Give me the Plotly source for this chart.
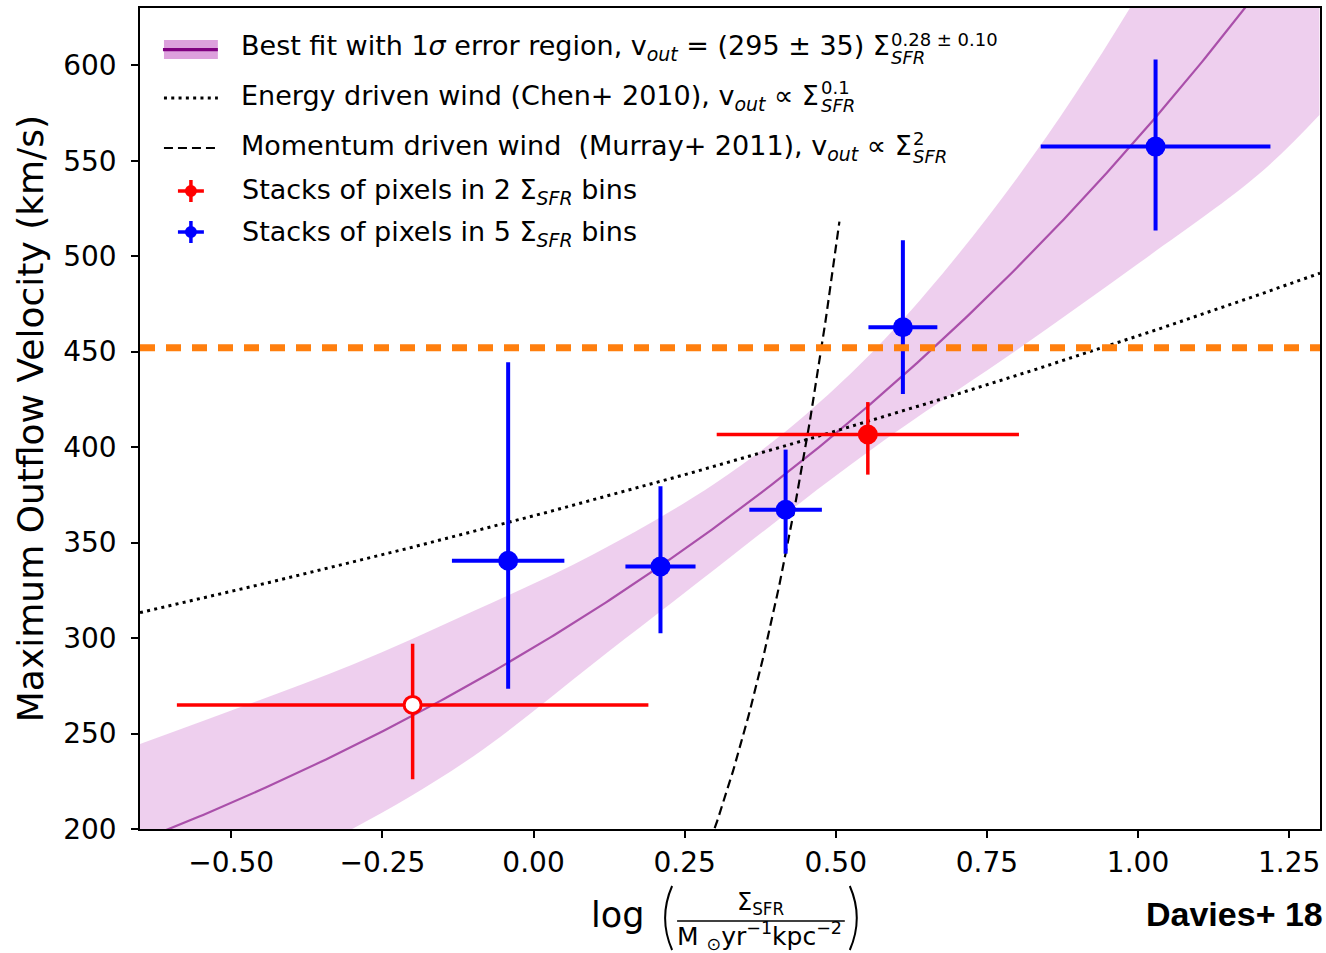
import numpy as np
import plotly.graph_objects as go

# ---------------------------------------------------------------- data
X_RANGE = [-0.651, 1.301]          # log Sigma_SFR
V_RANGE = [200, 630]               # km/s

X_TICKS = [-0.50, -0.25, 0.00, 0.25, 0.50, 0.75, 1.00, 1.25]
X_TICK_TEXT = ["\u22120.50", "\u22120.25", "0.00", "0.25", "0.50", "0.75", "1.00", "1.25"]
V_TICKS = [200, 250, 300, 350, 400, 450, 500, 550, 600]

# stacks of pixels in 2 Sigma_SFR bins
RED_LOG_SFR = [-0.20, 0.553]
RED_LOG_SFR_ERR = [0.39, 0.25]
RED_VMAX = [265.0, 406.6]
RED_VMAX_ERR_UP = [32, 17]
RED_VMAX_ERR_DN = [39, 21]
RED_FILL = ["white", "red"]

# stacks of pixels in 5 Sigma_SFR bins
BLUE_LOG_SFR = [-0.042, 0.210, 0.417, 0.611, 1.029]
BLUE_LOG_SFR_ERR = [0.093, 0.058, 0.060, 0.057, 0.190]
BLUE_VMAX = [340.5, 337.5, 367.2, 462.8, 557.4]
BLUE_VMAX_ERR_UP = [104, 42, 31.5, 45.5, 45.6]
BLUE_VMAX_ERR_DN = [67, 35, 23, 35, 44]

# best fit v_out = A * Sigma^b and its 1 sigma region
FIT_NORM = 295.0
FIT_INDEX = 0.28
BAND_LOG_SFR = [-0.655, -0.5, -0.3, -0.1, 0.1, 0.3, 0.45, 0.6, 0.8, 1.0, 1.2, 1.30]
BAND_UPPER = [244, 262, 286, 314, 344, 381, 417, 463, 541, 637, 753, 819]
BAND_LOWER = [150, 170, 200, 238, 287, 336, 373, 408, 451, 496, 543, 574]

# wind models
ENERGY_NORM, ENERGY_INDEX = 364.0, 0.1
MOMENTUM_NORM, MOMENTUM_INDEX = 50.4, 2.0
MOMENTUM_LOG_SFR = [0.25, 0.506]

V_LIMIT = 452

# ---------------------------------------------------------------- geometry helpers
W, H = 1326, 953
ML, MR, MT, MB = 140, 4, 8, 124
PW, PH = W - ML - MR, H - MT - MB


def fx(px):
    return (px - ML) / PW


def fy(py):
    return (H - MB - py) / PH


FONT = "DejaVu Sans"

fig = go.Figure()

# 1 sigma band
fig.add_trace(go.Scatter(x=BAND_LOG_SFR, y=BAND_LOWER, mode="lines",
                         line=dict(width=0, shape="spline", color="rgba(0,0,0,0)"),
                         hoverinfo="skip"))
fig.add_trace(go.Scatter(x=BAND_LOG_SFR, y=BAND_UPPER, mode="lines", fill="tonexty",
                         fillcolor="rgba(221,160,221,0.5)",
                         line=dict(width=0, shape="spline", color="rgba(0,0,0,0)"),
                         hoverinfo="skip"))

# best-fit line
xs = np.linspace(X_RANGE[0], X_RANGE[1], 300)
fig.add_trace(go.Scatter(x=xs, y=FIT_NORM * 10 ** (FIT_INDEX * xs), mode="lines",
                         line=dict(color="rgba(128,0,128,0.62)", width=2.2)))

# energy driven wind
fig.add_trace(go.Scatter(x=xs, y=ENERGY_NORM * 10 ** (ENERGY_INDEX * xs), mode="lines",
                         line=dict(color="black", width=3, dash="3px,4.3px")))

# momentum driven wind
xm = np.linspace(MOMENTUM_LOG_SFR[0], MOMENTUM_LOG_SFR[1], 120)
fig.add_trace(go.Scatter(x=xm, y=MOMENTUM_NORM * 10 ** (MOMENTUM_INDEX * xm), mode="lines",
                         line=dict(color="black", width=2.2, dash="9px,5px")))

# binned measurements
fig.add_trace(go.Scatter(
    x=RED_LOG_SFR, y=RED_VMAX, mode="markers",
    marker=dict(size=17, color=RED_FILL, line=dict(color="red", width=3)),
    error_x=dict(type="data", array=RED_LOG_SFR_ERR, color="red", thickness=3.5, width=0),
    error_y=dict(type="data", symmetric=False, array=RED_VMAX_ERR_UP,
                 arrayminus=RED_VMAX_ERR_DN, color="red", thickness=3.5, width=0)))
fig.add_trace(go.Scatter(
    x=BLUE_LOG_SFR, y=BLUE_VMAX, mode="markers",
    marker=dict(size=20, color="blue"),
    error_x=dict(type="data", array=BLUE_LOG_SFR_ERR, color="blue", thickness=4, width=0),
    error_y=dict(type="data", symmetric=False, array=BLUE_VMAX_ERR_UP,
                 arrayminus=BLUE_VMAX_ERR_DN, color="blue", thickness=4, width=0)))

# horizontal reference velocity
fig.add_trace(go.Scatter(x=X_RANGE, y=[V_LIMIT, V_LIMIT], mode="lines",
                         line=dict(color="#ff7f0e", width=7, dash="15px,11px")))

# ---------------------------------------------------------------- legend (hand built)
shapes = []
ann = []


def pline(x0, y0, x1, y1, color, width, dash="solid"):
    shapes.append(dict(type="line", xref="paper", yref="paper",
                       x0=fx(x0), y0=fy(y0), x1=fx(x1), y1=fy(y1),
                       line=dict(color=color, width=width, dash=dash)))


def text(px, py, s, size=27, anchor="left", vanchor="middle", color="black", family=FONT, angle=0,
         pad=1):
    ann.append(dict(xref="paper", yref="paper", x=fx(px), y=fy(py), text=s, showarrow=False,
                    xanchor=anchor, yanchor=vanchor, textangle=angle, borderpad=pad,
                    font=dict(family=family, size=size, color=color)))


shapes.append(dict(type="rect", xref="paper", yref="paper", x0=fx(164), x1=fx(218),
                   y0=fy(59), y1=fy(40), fillcolor="#dda0dd", line=dict(width=0)))
pline(163, 49.7, 218, 49.7, "#800080", 3.3)
pline(164, 98, 218, 98, "black", 3, "3px,4.3px")
pline(164, 148, 218, 148, "black", 2.2, "9px,5px")
for yc, col in ((191, "red"), (232, "blue")):
    pline(178, yc, 204, yc, col, 3.5)
    pline(191, yc - 11, 191, yc + 11, col, 3.5)
    shapes.append(dict(type="circle", xref="paper", yref="paper",
                       x0=fx(185), x1=fx(197), y0=fy(yc + 6), y1=fy(yc - 6),
                       fillcolor=col, line=dict(width=0)))

text(240, 48, "Best fit with 1<i>\u03c3</i> error region, v<sub><i>out</i></sub> = (295 \u00b1 35) \u03a3",
     pad=0)
text(891, 39, "0.28 \u00b1 0.10", size=18, pad=0)
text(891, 58, "<i>SFR</i>", size=18, pad=0)
text(240, 97, "Energy driven wind (Chen+ 2010), v<sub><i>out</i></sub> \u221d \u03a3", pad=0)
text(821, 88, "0.1", size=18, pad=0)
text(821, 106, "<i>SFR</i>", size=18, pad=0)
text(240, 147, "Momentum driven wind  (Murray+ 2011), v<sub><i>out</i></sub> \u221d \u03a3", pad=0)
text(913, 138, "2", size=18, pad=0)
text(913, 156, "<i>SFR</i>", size=18, pad=0)
text(240, 191, "Stacks of pixels in 2 \u03a3<sub><i>SFR</i></sub> bins")
text(240, 233, "Stacks of pixels in 5 \u03a3<sub><i>SFR</i></sub> bins")

# ---------------------------------------------------------------- axis titles
text(30, 419, "Maximum Outflow Velocity (km/s)", size=36, anchor="center", angle=-90)
text(618, 915, "log", size=35, anchor="center")
text(762, 903, "\u03a3<sub>SFR</sub>", size=24, anchor="center")
pline(678, 921, 846, 921, "black", 1.5)
text(761, 936, "M <sub>\u2299</sub>yr<sup>\u22121</sup>kpc<sup>\u22122</sup>", size=25, anchor="center",
     pad=0)
for x_end, x_mid in ((673, 659), (851, 865)):
    shapes.append(dict(type="path", xref="paper", yref="paper",
                       path=f"M {fx(x_end)},{fy(886)} Q {fx(x_mid)},{fy(918)} {fx(x_end)},{fy(950)}",
                       line=dict(color="black", width=2)))
text(1326, 914, "<b>Davies+ 18</b>", size=34, anchor="right", family="Liberation Sans", pad=0)

axis_common = dict(showline=True, mirror=True, linecolor="black", linewidth=1.5,
                   ticks="outside", ticklen=7, tickwidth=1.5, tickcolor="black",
                   showgrid=False, zeroline=False,
                   tickfont=dict(family=FONT, size=28, color="black"))

fig.update_layout(
    width=W, height=H, margin=dict(l=ML, r=MR, t=MT, b=MB),
    paper_bgcolor="white", plot_bgcolor="white", showlegend=False,
    xaxis=dict(range=X_RANGE, tickvals=X_TICKS, ticktext=X_TICK_TEXT, ticklabelstandoff=1,
               **axis_common),
    yaxis=dict(range=V_RANGE, tickvals=V_TICKS, ticklabelstandoff=9, **axis_common),
    shapes=shapes, annotations=ann,
)

fig.write_html("out.html")
